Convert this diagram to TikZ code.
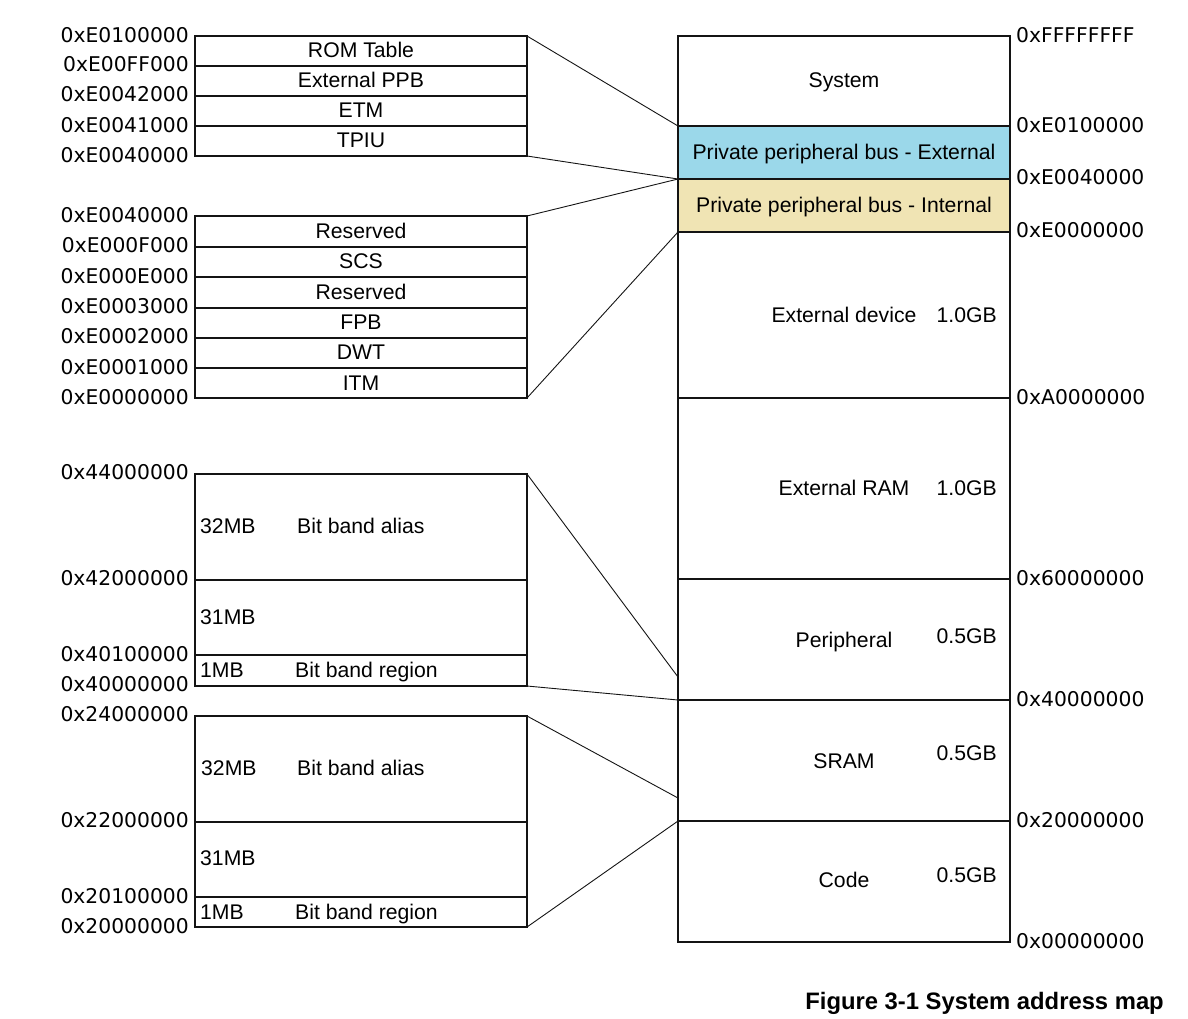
\documentclass[tikz,border=0pt]{standalone}
\usepackage{fontspec}
\setmainfont{Liberation Sans}
\newfontfamily\addrfont{DejaVu Sans}
\definecolor{ppbblue}{RGB}{155,216,234}
\definecolor{ppbtan}{RGB}{240,228,180}
\definecolor{linecol}{RGB}{20,20,20}
\begin{document}
\begin{tikzpicture}[x=1pt,y=-1pt,
  cell/.style={draw=linecol,line width=1.2pt,anchor=north west,inner sep=0pt,outer sep=0pt,minimum width=332pt},
  lbl/.style={font=\fontsize{21.2}{23}\selectfont,inner sep=0pt,text height=15.2pt,text depth=0pt},
  addrL/.style={font=\addrfont\fontsize{20.3}{22}\selectfont,inner sep=0pt,anchor=east,text height=14.8pt,text depth=0pt},
  addrR/.style={font=\addrfont\fontsize{20.3}{22}\selectfont,inner sep=0pt,anchor=west,text height=14.8pt,text depth=0pt},
  conn/.style={draw=linecol,line width=0.9pt}]
\useasboundingbox (0,0) rectangle (1188,1018);

% ---------- right column ----------
\node[cell,minimum height=90pt] (sys) at (678,36) {};
\node[cell,minimum height=53pt,fill=ppbblue] (ppbe) at (678,126) {};
\node[cell,minimum height=53pt,fill=ppbtan] (ppbi) at (678,179) {};
\node[cell,minimum height=166pt] (extdev) at (678,232) {};
\node[cell,minimum height=181pt] (extram) at (678,398) {};
\node[cell,minimum height=121pt] (periph) at (678,579) {};
\node[cell,minimum height=121pt] (sram) at (678,700) {};
\node[cell,minimum height=121pt] (code) at (678,821) {};

\node[lbl] (tsys) at (844,80) {System};
\node[lbl] (tppbe) at (844,152) {Private peripheral bus - External};
\node[lbl] (tppbi) at (844,205) {Private peripheral bus - Internal};
\node[lbl] (textdev) at (844,315) {External device};
\node[lbl,anchor=east] (sextdev) at (997,315) {1.0GB};
\node[lbl] (textram) at (844,488) {External RAM};
\node[lbl,anchor=east] (sextram) at (997,488) {1.0GB};
\node[lbl] (tperiph) at (844,640) {Peripheral};
\node[lbl,anchor=east] (speriph) at (997,636) {0.5GB};
\node[lbl] (tsram) at (844,761) {SRAM};
\node[lbl,anchor=east] (ssram) at (997,753) {0.5GB};
\node[lbl] (tcode) at (844,880) {Code};
\node[lbl,anchor=east] (scode) at (997,875) {0.5GB};

\node[addrR] (r0) at (1016,35) {0xFFFFFFFF};
\node[addrR] (r1) at (1016,125) {0xE0100000};
\node[addrR] (r2) at (1016,177) {0xE0040000};
\node[addrR] (r3) at (1016,230) {0xE0000000};
\node[addrR] (r4) at (1016,397) {0xA0000000};
\node[addrR] (r5) at (1016,578) {0x60000000};
\node[addrR] (r6) at (1016,699) {0x40000000};
\node[addrR] (r7) at (1016,820) {0x20000000};
\node[addrR] (r8) at (1016,941) {0x00000000};

% ---------- external PPB block ----------
\node[cell,minimum height=30pt] (rom) at (195,36) {};
\node[cell,minimum height=30pt] (eppb) at (195,66) {};
\node[cell,minimum height=30pt] (etm) at (195,96) {};
\node[cell,minimum height=30pt] (tpiu) at (195,126) {};
\node[lbl] at (361,50) {ROM Table};
\node[lbl] at (361,80) {External PPB};
\node[lbl] at (361,110) {ETM};
\node[lbl] at (361,140) {TPIU};
\node[addrL] (a1) at (189,35) {0xE0100000};
\node[addrL] (a2) at (189,64) {0xE00FF000};
\node[addrL] (a3) at (189,94) {0xE0042000};
\node[addrL] (a4) at (189,125) {0xE0041000};
\node[addrL] (a5) at (189,155) {0xE0040000};

% ---------- internal PPB block ----------
\node[cell,minimum height=31pt] (res1) at (195,216) {};
\node[cell,minimum height=30pt] (scs) at (195,247) {};
\node[cell,minimum height=31pt] (res2) at (195,277) {};
\node[cell,minimum height=30pt] (fpb) at (195,308) {};
\node[cell,minimum height=30pt] (dwt) at (195,338) {};
\node[cell,minimum height=30pt] (itm) at (195,368) {};
\node[lbl] at (361,231) {Reserved};
\node[lbl] at (361,261) {SCS};
\node[lbl] at (361,292) {Reserved};
\node[lbl] at (361,322) {FPB};
\node[lbl] at (361,352) {DWT};
\node[lbl] at (361,383) {ITM};
\node[addrL] (b1) at (189,215) {0xE0040000};
\node[addrL] (b2) at (189,245) {0xE000F000};
\node[addrL] (b3) at (189,276) {0xE000E000};
\node[addrL] (b4) at (189,306) {0xE0003000};
\node[addrL] (b5) at (189,336) {0xE0002000};
\node[addrL] (b6) at (189,367) {0xE0001000};
\node[addrL] (b7) at (189,397) {0xE0000000};

% ---------- peripheral bit band block ----------
\node[cell,minimum height=106pt] (palias) at (195,474) {};
\node[cell,minimum height=75pt] (p31) at (195,580) {};
\node[cell,minimum height=31pt] (pregion) at (195,655) {};
\node[lbl,anchor=west] at (200,526) {32MB};
\node[lbl,anchor=west] at (297,526) {Bit band alias};
\node[lbl,anchor=west] at (200,617) {31MB};
\node[lbl,anchor=west] at (200,670) {1MB};
\node[lbl,anchor=west] at (295,670) {Bit band region};
\node[addrL] (c1) at (189,472) {0x44000000};
\node[addrL] (c2) at (189,578) {0x42000000};
\node[addrL] (c3) at (189,654) {0x40100000};
\node[addrL] (c4) at (189,684) {0x40000000};

% ---------- SRAM bit band block ----------
\node[cell,minimum height=106pt] (salias) at (195,716) {};
\node[cell,minimum height=75pt] (s31) at (195,822) {};
\node[cell,minimum height=30pt] (sregion) at (195,897) {};
\node[lbl,anchor=west] at (201,768) {32MB};
\node[lbl,anchor=west] at (297,768) {Bit band alias};
\node[lbl,anchor=west] at (200,858) {31MB};
\node[lbl,anchor=west] at (200,912) {1MB};
\node[lbl,anchor=west] at (295,912) {Bit band region};
\node[addrL] (d1) at (189,714) {0x24000000};
\node[addrL] (d2) at (189,820) {0x22000000};
\node[addrL] (d3) at (189,896) {0x20100000};
\node[addrL] (d4) at (189,926) {0x20000000};

% ---------- connectors ----------
\coordinate (pend) at (678,677);
\coordinate (send) at (678,798);
\draw[conn] (rom.north east) -- (ppbe.north west);
\draw[conn] (tpiu.south east) -- (ppbi.north west);
\draw[conn] (res1.north east) -- (ppbi.north west);
\draw[conn] (itm.south east) -- (extdev.north west);
\draw[conn] (palias.north east) -- (pend);
\draw[conn] (pregion.south east) -- (sram.north west);
\draw[conn] (salias.north east) -- (send);
\draw[conn] (sregion.south east) -- (code.north west);

% ---------- caption ----------
\node[font=\bfseries\fontsize{23.8}{26}\selectfont,anchor=east,inner sep=0pt,text height=17pt,text depth=0pt] (cap) at (1164,1001) {Figure 3-1 System address map};
\end{tikzpicture}
\end{document}
